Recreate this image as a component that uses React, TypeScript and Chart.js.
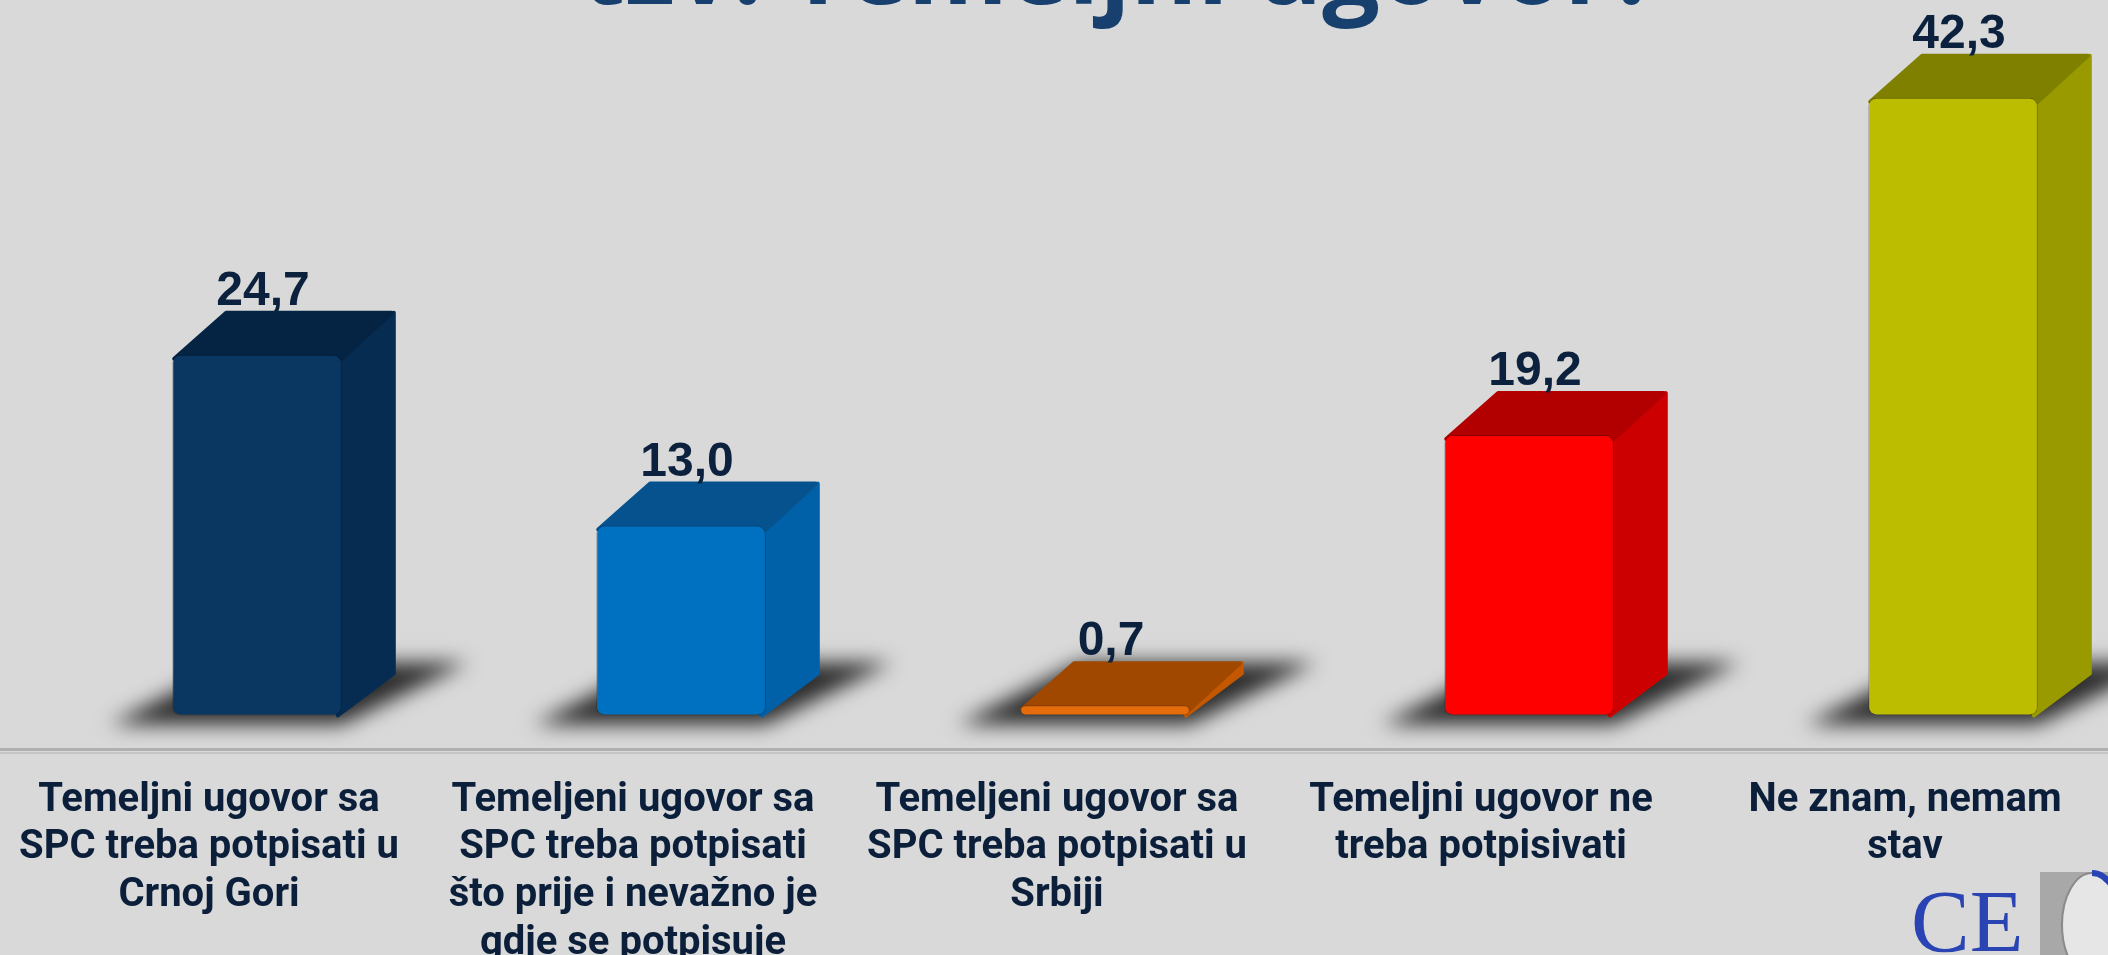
import React, { useEffect, useRef } from "react";
import { Chart, registerables } from "chart.js";

Chart.register(...registerables);

const categories: string[][] = [
  ["Temeljni ugovor sa", "SPC treba potpisati u", "Crnoj Gori"],
  ["Temeljeni ugovor sa", "SPC treba potpisati", "što prije i nevažno je", "gdje se potpisuje"],
  ["Temeljeni ugovor sa", "SPC treba potpisati u", "Srbiji"],
  ["Temeljni ugovor ne", "treba potpisivati"],
  ["Ne znam, nemam", "stav"],
];
const values: number[] = [24.7, 13.0, 0.7, 19.2, 42.3];
const frontColors: string[] = ["#0a3662", "#0070c0", "#e46c0a", "#ff0000", "#bcbc00"];
const topColors: string[] = ["#052444", "#05528e", "#a04800", "#b20000", "#808000"];
const sideColors: string[] = ["#062c52", "#0060a8", "#c45800", "#cc0000", "#999900"];
const titleText = "tzv. Temeljni ugovor?";

const DX = 52;
const DY = -42;

const fmt = (v: number) => v.toFixed(1).replace(".", ",");

const boxPlugin = {
  id: "box3d",
  beforeDatasetsDraw(chart: any) {
    const ctx = chart.ctx;
    const meta = chart.getDatasetMeta(0);
    const yb = chart.chartArea.bottom;
    ctx.save();
    ctx.fillStyle = "#b0b0b0";
    ctx.fillRect(0, yb - 1, chart.width, 3);
    ctx.fillStyle = "#c4c4c4";
    ctx.fillRect(0, yb + 3, chart.width, 2);
    ctx.restore();
    meta.data.forEach((bar: any, i: number) => {
      const xL = bar.x - bar.width / 2;
      const xR = bar.x + bar.width / 2;
      const top = bar.y;
      const base = bar.base;
      ctx.save();
      ctx.filter = "blur(10px)";
      ctx.fillStyle = "rgba(35,35,35,0.95)";
      ctx.beginPath();
      ctx.moveTo(xL - 62, base + 9);
      ctx.lineTo(xR, base + 9);
      ctx.lineTo(xR + 126, base - 53);
      ctx.lineTo(xL + 60, base - 53);
      ctx.closePath();
      ctx.fill();
      ctx.restore();
      ctx.save();
      ctx.lineJoin = "round";
      ctx.fillStyle = sideColors[i];
      ctx.strokeStyle = sideColors[i];
      ctx.lineWidth = 4;
      ctx.beginPath();
      ctx.moveTo(xR - 4, top);
      ctx.lineTo(xR + DX, top + DY);
      ctx.lineTo(xR + DX, base + DY);
      ctx.lineTo(xR - 4, base);
      ctx.closePath();
      ctx.fill();
      ctx.stroke();
      ctx.fillStyle = topColors[i];
      ctx.strokeStyle = topColors[i];
      ctx.beginPath();
      ctx.moveTo(xL + 2, top + 4);
      ctx.lineTo(xL + DX + 2, top + DY);
      ctx.lineTo(xR + DX - 2, top + DY);
      ctx.lineTo(xR, top + 4);
      ctx.closePath();
      ctx.fill();
      ctx.stroke();
      ctx.restore();
    });
  },
  afterDatasetsDraw(chart: any) {
    const ctx = chart.ctx;
    const meta = chart.getDatasetMeta(0);
    ctx.save();
    ctx.font = "bold 48px 'Liberation Sans'";
    ctx.fillStyle = "#0c213d";
    ctx.textAlign = "center";
    ctx.textBaseline = "alphabetic";
    meta.data.forEach((bar: any, i: number) => {
      ctx.fillText(fmt(values[i]), bar.x + 6, bar.y + DY - 8);
    });
    ctx.restore();
  },
  afterDraw(chart: any) {
    const ctx = chart.ctx;
    ctx.save();
    ctx.font = "bold 102px 'Open Sans'";
    ctx.fillStyle = "#17406f";
    ctx.textAlign = "center";
    ctx.textBaseline = "alphabetic";
    ctx.fillText(titleText, 1120, 4);
    ctx.font = "88px 'Liberation Serif'";
    ctx.fillStyle = "#2a44b4";
    ctx.textAlign = "left";
    ctx.fillText("CE", 1911, 951);
    ctx.fillStyle = "#a8a8a8";
    ctx.fillRect(2040, 872, 120, 90);
    ctx.beginPath();
    ctx.ellipse(2092, 925, 30, 52, 0, 0, Math.PI * 2);
    ctx.fillStyle = "#e6e6e6";
    ctx.fill();
    ctx.strokeStyle = "#8a8a8a";
    ctx.lineWidth = 2;
    ctx.stroke();
    ctx.beginPath();
    ctx.ellipse(2092, 925, 30, 52, 0, -Math.PI / 2, 0.2);
    ctx.strokeStyle = "#2a44b4";
    ctx.lineWidth = 6;
    ctx.stroke();
    ctx.restore();
  },
};

export default function App() {
  const ref = useRef<HTMLCanvasElement | null>(null);
  useEffect(() => {
    if (!ref.current) return;
    const chart = new Chart(ref.current, {
      type: "bar",
      data: {
        labels: categories,
        datasets: [
          {
            data: values,
            backgroundColor: frontColors,
            borderColor: "rgba(0,0,0,0.25)",
            borderWidth: 1,
            borderRadius: 8,
            borderSkipped: false,
            barPercentage: 0.4,
            categoryPercentage: 1,
          },
        ],
      },
      options: {
        responsive: false,
        devicePixelRatio: 1,
        animation: false,
        layout: { padding: { left: 45, right: 0, top: 0, bottom: 0 } },
        plugins: { legend: { display: false }, tooltip: { enabled: false }, title: { display: false } },
        scales: {
          y: { display: false, min: -2.3, max: 49 },
          x: {
            offset: true,
            grid: { display: false, drawTicks: false },
            border: { display: false },
            ticks: {
              color: "#0b1f3a",
              font: { family: "Roboto", weight: "bold", size: 40, lineHeight: 1.19 },
              padding: 28,
              labelOffset: -48,
              maxRotation: 0,
              autoSkip: false,
            },
            afterFit: (scale: any) => {
              scale.height = 206;
            },
          },
        },
      },
      plugins: [boxPlugin],
    });
    return () => chart.destroy();
  }, []);
  return (
    <div style={{ position: "fixed", left: 0, top: 0, width: 2108, height: 955, overflow: "hidden", background: "#d9d9d9" }}>
      <canvas ref={ref} width={2165} height={955} style={{ position: "absolute", left: 0, top: 0 }} />
    </div>
  );
}
